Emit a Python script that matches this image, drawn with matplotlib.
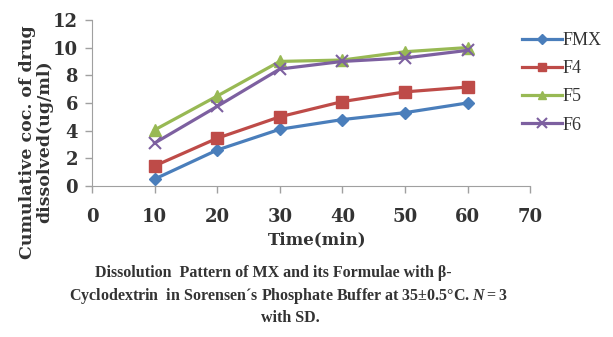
import numpy as np
import matplotlib.pyplot as plt

# dissolution data
time = [10, 20, 30, 40, 50, 60]
fmx = [0.5, 2.6, 4.1, 4.8, 5.3, 6.0]
f4 = [1.45, 3.45, 5.0, 6.1, 6.8, 7.15]
f5 = [4.05, 6.5, 9.0, 9.1, 9.7, 10.0]
f6 = [3.1, 5.75, 8.45, 9.0, 9.25, 9.8]

plt.rcParams['font.family'] = ['DejaVu Serif']
plt.rcParams['mathtext.fontset'] = 'custom'
plt.rcParams['mathtext.it'] = 'Liberation Serif:italic:bold'
plt.rcParams['mathtext.rm'] = 'Liberation Serif:bold'
txt = '#333333'

fig = plt.figure(figsize=(6.13, 3.37), dpi=100)
ax = fig.add_axes([0.150, 0.448, 0.715, 0.493])

ax.plot(time, fmx, color='#4a7ebb', lw=2.3, marker='D', ms=6, label='FMX')
ax.plot(time, f4, color='#be4b48', lw=2.3, marker='s', ms=8, label='F4')
ax.plot(time, f5, color='#98b954', lw=2.3, marker='^', ms=8, label='F5')
ax.plot(time, f6, color='#7d60a0', lw=2.3, marker='x', ms=9, mew=1.5, label='F6')

ax.set_xlim(0, 70)
ax.set_ylim(0, 12)
ax.set_xticks(range(0, 71, 10))
ax.set_yticks(range(0, 13, 2))
for s in ['top', 'right']:
    ax.spines[s].set_visible(False)
for s in ['left', 'bottom']:
    ax.spines[s].set_color('#a0a0a0')
ax.tick_params(colors='#a0a0a0', labelcolor=txt, length=5, width=1)
ax.tick_params(axis='x', pad=11)
ax.tick_params(axis='y', pad=5)
for lab in ax.get_xticklabels() + ax.get_yticklabels():
    lab.set_fontsize(13)
    lab.set_fontweight('bold')

# axis titles
fig.text(317 / 613, 1 - 240 / 337, 'Time(min)', ha='center', va='center',
         fontsize=12, fontweight='bold', color=txt)
fig.text(36 / 613, 1 - 142 / 337, 'Cumulative coc. of drug\ndissolved(ug/ml)',
         ha='center', va='center', rotation=90, fontsize=12.5, fontweight='bold',
         color=txt, linespacing=1.0)

# legend
leg = fig.legend(loc='upper left', bbox_to_anchor=(522 / 613, 1 - 32 / 337),
                 frameon=False, prop={'family': 'Liberation Serif', 'size': 13},
                 handlelength=2.2, handletextpad=0.05, labelspacing=0.62,
                 borderpad=0, borderaxespad=0, markerscale=0.8)
for t in leg.get_texts():
    t.set_color(txt)

# caption
cap_font = {'family': 'Liberation Serif', 'size': 11.5, 'weight': 'bold', 'color': txt}
fig.text(273 / 613, 1 - 273 / 337,
         'Dissolution  Pattern of MX and its Formulae with \u03b2-',
         ha='center', va='center', fontdict=cap_font)
fig.text(288 / 613, 1 - 296 / 337,
         'Cyclodextrin  in Sorensen\u00b4s Phosphate Buffer at 35\u00b10.5\u00b0C. $\\mathit{N=3}$',
         ha='center', va='center', fontdict=cap_font)
fig.text(290 / 613, 1 - 318 / 337, 'with SD.', ha='center', va='center',
         fontdict=cap_font)

fig.savefig('out.png', dpi=100)
